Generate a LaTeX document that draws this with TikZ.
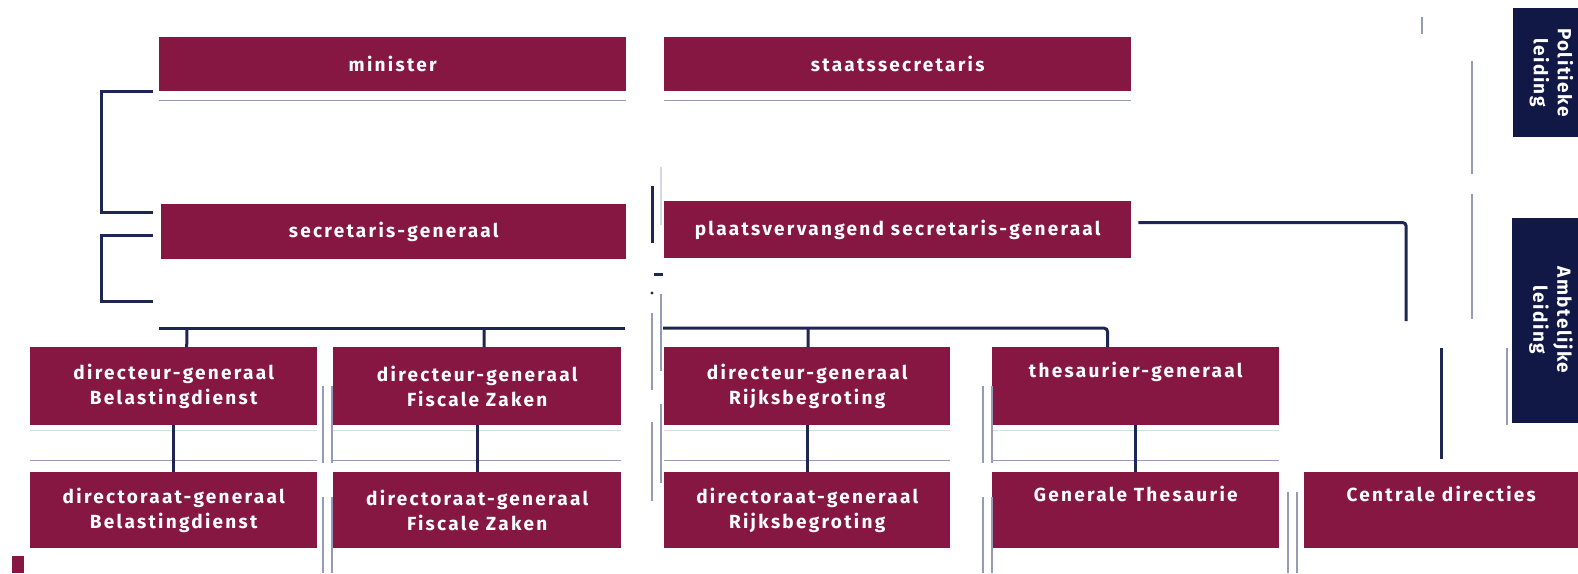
\documentclass[tikz,border=0pt]{standalone}
\usepackage{fontspec}
\setsansfont{Fira Sans}[LetterSpace=12]
\usetikzlibrary{positioning}

\definecolor{maroon}{RGB}{134,23,66}
\definecolor{navy}{RGB}{18,24,70}
\definecolor{linedark}{RGB}{30,38,82}
\definecolor{linegray}{RGB}{150,154,182}

\tikzstyle{unit} = [fill=maroon, text=white, font=\sffamily\bfseries\fontsize{19}{25}\selectfont, align=center, anchor=north west, inner sep=0pt]
\tikzstyle{side} = [fill=navy, text=white, font=\sffamily\bfseries\fontsize{19}{24}\selectfont\addfontfeatures{LetterSpace=8}, align=center, inner sep=0pt, rotate=-90]
\tikzstyle{line} = [draw=linedark, line width=3pt]
\tikzstyle{rule} = [draw=linegray, line width=1.6pt]

\begin{document}
\begin{tikzpicture}[x=1pt,y=-1pt]
		\useasboundingbox (0,0) rectangle (1578,573);
		
		%politieke leiding
		\node[unit, minimum width=467pt, minimum height=54pt] (minister) at (159,37) {minister};
		\node[unit, minimum width=467pt, minimum height=54pt] (staats) at (664,37) {staatssecretaris};
		%ambtelijke leiding
		\node[unit, minimum width=465pt, minimum height=55pt] (sg) at (161,204) {secretaris-generaal};
		\node[unit, minimum width=467pt, minimum height=57pt] (psg) at (664,201) {plaatsvervangend secretaris-generaal};
		%directeuren-generaal
		\node[unit, minimum width=287pt, minimum height=78pt] (dgB) at (30,347) {directeur-generaal\\Belastingdienst};
		\node[unit, minimum width=288pt, minimum height=78pt] (dgFZ) at (333,347) {directeur-generaal\\Fiscale Zaken};
		\node[unit, minimum width=286pt, minimum height=78pt] (dgR) at (664,347) {directeur-generaal\\Rijksbegroting};
		\node[unit, minimum width=287pt, minimum height=78pt] (tg) at (992,347) {thesaurier-generaal\\\strut};
		%directoraten
		\node[unit, minimum width=287pt, minimum height=76pt] (dirB) at (30,472) {directoraat-generaal\\Belastingdienst};
		\node[unit, minimum width=288pt, minimum height=76pt] (dirFZ) at (333,472) {directoraat-generaal\\Fiscale Zaken};
		\node[unit, minimum width=286pt, minimum height=76pt] (dirR) at (664,472) {directoraat-generaal\\Rijksbegroting};
		\node[unit, minimum width=287pt, minimum height=76pt] (gt) at (992,472) {Generale Thesaurie\\\strut};
		\node[unit, minimum width=274pt, minimum height=76pt] (cd) at (1304,472) {Centrale directies\\\strut};
		%labels
		\node[side, minimum width=129pt, minimum height=77pt] (pol) at (1551.5,72.5) {Politieke\\leiding};
		\node[side, minimum width=205pt, minimum height=78pt] (amb) at (1551,320) {Ambtelijke\\leiding};
		\fill[maroon] (12,556) rectangle (24,573);
		
		%thin rules
		\draw[rule] ([yshift=-9pt]minister.south west) -- ([yshift=-9pt]minister.south east);
		\draw[rule] ([yshift=-9pt]staats.south west) -- ([yshift=-9pt]staats.south east);
		\foreach \n in {dgB,dgFZ,dgR,tg} {
			\draw[rule,draw=linegray!35] ([yshift=-5pt]\n.south west) -- ([yshift=-5pt]\n.south east);
			\draw[rule] ([yshift=-35pt]\n.south west) -- ([yshift=-35pt]\n.south east);
		}
		\foreach \x in {323,332,983,992} {
			\draw[rule] (\x,386) -- (\x,463);
			\draw[rule] (\x,497) -- (\x,573);
		}
		\draw[rule] (652,313) -- (652,390);
		\draw[rule] (652,422) -- (652,501);
		\draw[rule] (661,294) -- (661,371);
		\draw[rule] (661,404) -- (661,483);
		\draw[rule,draw=linegray!40] (661,167) -- (661,225);
		\draw[rule] (1288,492) -- (1288,573);
		\draw[rule] (1297,492) -- (1297,573);
		\draw[rule] (1422,17) -- (1422,34);
		\draw[rule] (1472,61) -- (1472,174);
		\draw[rule] (1472,194) -- (1472,319);
		\draw[rule] (1507,348) -- (1507,425);
		
		%connectors
		\coordinate (sgend) at (153,301);
		\coordinate (busL) at (159,328);
		\coordinate (busM) at (625,328);
		\coordinate (busR) at (663,328);
		\coordinate (psgend) at (1406,321);
		\draw[line] ([xshift=-6pt]minister.south west) -| (101,212) -- ([xshift=-8pt,yshift=-8pt]sg.north west);
		\draw[line] ([xshift=-8pt,yshift=24pt]sg.south west) -| (101,301) -- (sgend);
		\draw[line] (busL) -- (busM);
		\draw[line,rounded corners=4pt] (busR) -| ([xshift=-28pt]tg.north);
		\draw[line] ([xshift=13pt]dgB.north) -- (187,328);
		\draw[line] ([xshift=7pt]dgFZ.north) -- (484,328);
		\draw[line] ([xshift=1pt]dgR.north) -- (808,328);
		\foreach \a/\b in {dgB/dirB,dgFZ/dirFZ,dgR/dirR,tg/gt}
			\draw[line] (\a.south) -- (\b.north);
		\draw[line,rounded corners=3pt] ([xshift=7pt,yshift=7pt]psg.east) -| (psgend);
		\draw[line] ([yshift=13pt]cd.north) -- ++(0,-111);
		\draw[line] (652,186) -- (652,243);
		\draw[line] (654,274) -- (663,274);
		\fill[linedark] (652,293) circle (1.6);
		
		\end{tikzpicture}
\end{document}
